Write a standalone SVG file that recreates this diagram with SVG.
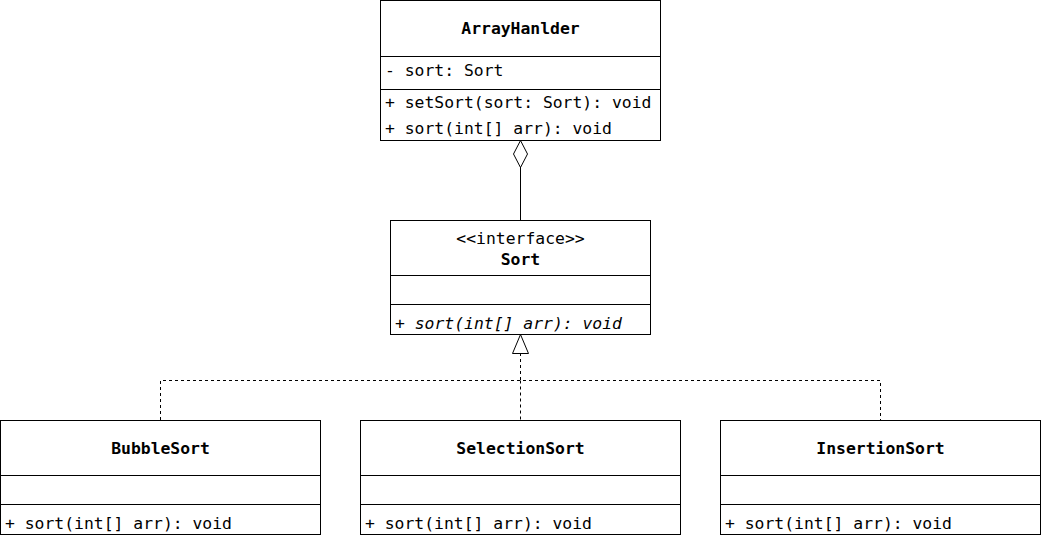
<svg xmlns="http://www.w3.org/2000/svg" width="1041" height="535" viewBox="0 0 1041 535">
<style>
.box{fill:#fff;stroke:#000;stroke-width:1}
.ln{stroke:#000;stroke-width:1;fill:none}
.dash{stroke:#000;stroke-width:1;fill:none;stroke-dasharray:3 3}
text{font-family:"DejaVu Sans Mono","Liberation Mono",monospace;font-size:16.4px;fill:#000}
.t{font-weight:bold;text-anchor:middle}
.c{text-anchor:middle}
.i{font-style:italic}
</style>
<rect width="1041" height="535" fill="#fff"/>
<g id="connectors">
<path class="ln" d="M520.5 167V220"/>
<path class="ln" d="M520.5 140.5L527.5 154L520.5 167.5L513.5 154Z" fill="#fff"/>
<path class="dash" d="M520.5 353V380.5M160.5 420V380.5H880.5V420M520.5 380.5V420"/>
<path class="ln" d="M520.5 334.5L528.5 353.5H512.5Z" fill="#fff"/>
</g>
<g id="ArrayHanlder">
<rect class="box" x="380.5" y="0.5" width="280" height="140"/>
<path class="ln" d="M380.5 56.5H660.5M380.5 89.5H660.5"/>
<text class="t" x="520.5" y="34">ArrayHanlder</text>
<text x="385" y="76">- sort: Sort</text>
<text x="385" y="108">+ setSort(sort: Sort): void</text>
<text x="385" y="134">+ sort(int[] arr): void</text>
</g>
<g id="Sort">
<rect class="box" x="390.5" y="220.5" width="260" height="114"/>
<path class="ln" d="M390.5 275.5H650.5M390.5 304.5H650.5"/>
<text class="c" x="520.5" y="244">&lt;&lt;interface&gt;&gt;</text>
<text class="t" x="520.5" y="265">Sort</text>
<text class="i" x="395" y="329">+ sort(int[] arr): void</text>
</g>
<g id="BubbleSort">
<rect class="box" x="0.5" y="420.5" width="320" height="114"/>
<path class="ln" d="M0.5 475.5H320.5M0.5 504.5H320.5"/>
<text class="t" x="160.5" y="454">BubbleSort</text>
<text x="5" y="529">+ sort(int[] arr): void</text>
</g>
<g id="SelectionSort">
<rect class="box" x="360.5" y="420.5" width="320" height="114"/>
<path class="ln" d="M360.5 475.5H680.5M360.5 504.5H680.5"/>
<text class="t" x="520.5" y="454">SelectionSort</text>
<text x="365" y="529">+ sort(int[] arr): void</text>
</g>
<g id="InsertionSort">
<rect class="box" x="720.5" y="420.5" width="320" height="114"/>
<path class="ln" d="M720.5 475.5H1040.5M720.5 504.5H1040.5"/>
<text class="t" x="880.5" y="454">InsertionSort</text>
<text x="725" y="529">+ sort(int[] arr): void</text>
</g>
</svg>
